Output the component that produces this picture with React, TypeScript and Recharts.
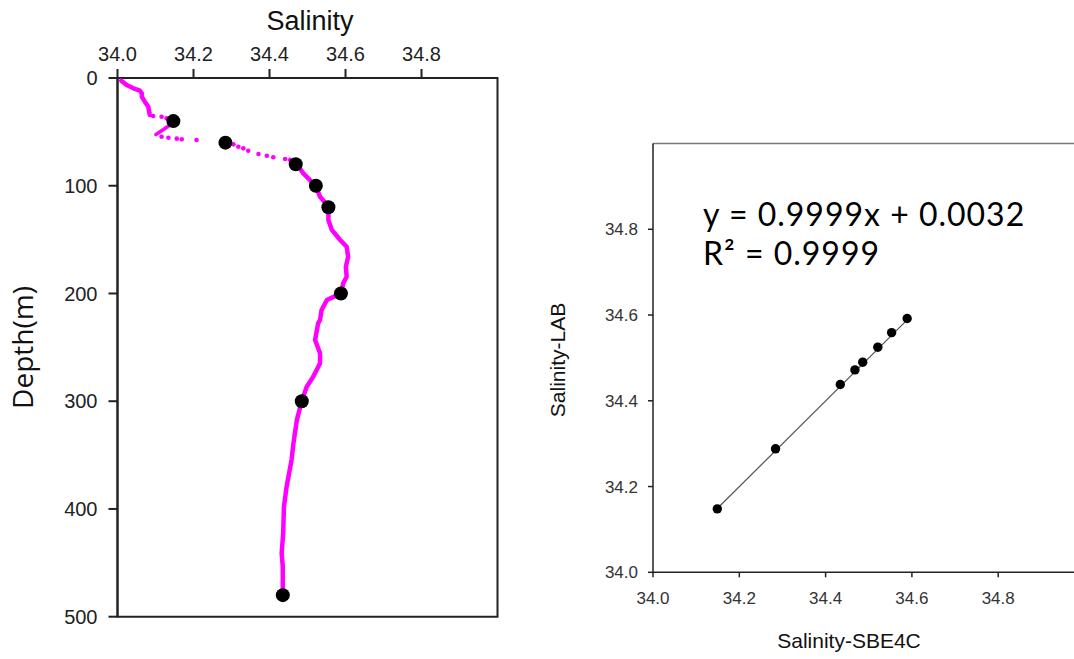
import React from 'react';
import { ScatterChart, Scatter, XAxis, YAxis, ReferenceArea, ReferenceLine } from 'recharts';

// ---------- Left chart: salinity profile ----------
const upperDepth = [2.5, 6.5, 9.6, 11.8, 14.2, 17.3, 22, 26.6, 32.8, 34.3];
const upperSal = [34.010, 34.024, 34.042, 34.059, 34.064, 34.064, 34.072, 34.081, 34.084, 34.085];

const sparseDepth = [35.3, 35.9, 37.4, 54.5, 55.4, 56.3, 56.9, 57.6, 61.6, 63.8, 65.3, 67.5, 70.5, 72.1, 73.6, 75.2];
const sparseSal = [34.094, 34.116, 34.129, 34.116, 34.134, 34.156, 34.169, 34.208, 34.305, 34.318, 34.331, 34.344, 34.371, 34.393, 34.410, 34.441];

const strokeDepth = [40, 43.6, 48, 52.4];
const strokeSal = [34.147, 34.138, 34.12, 34.101];

const lowerDepth = [76.1, 79.8, 84, 88.5, 93.1, 100, 110.2, 119, 131.8, 141, 150.4, 156.6, 165.9, 175.2, 184.4, 190.6, 199.9, 206.1, 215.4, 224.6, 227.7, 243.2, 255.5, 264.8, 277.3, 286.5, 299.5, 317.5, 339, 354.6, 379.4, 398, 422.6, 441.2, 453.6, 479.9];
const lowerSal = [34.454, 34.469, 34.480, 34.489, 34.502, 34.521, 34.533, 34.555, 34.555, 34.564, 34.586, 34.603, 34.607, 34.601, 34.603, 34.594, 34.588, 34.551, 34.537, 34.533, 34.528, 34.520, 34.533, 34.533, 34.515, 34.498, 34.485, 34.472, 34.463, 34.458, 34.445, 34.438, 34.436, 34.432, 34.435, 34.435];

const bottleDepth = [40, 60, 80, 100, 120, 200, 300, 480];
const bottleSal = [34.147, 34.284, 34.469, 34.522, 34.555, 34.588, 34.485, 34.435];

const salTicks = [34.0, 34.2, 34.4, 34.6, 34.8];
const depthTicks = [0, 100, 200, 300, 400, 500];

// ---------- Right chart: comparison ----------
const sbe4c = [34.149, 34.284, 34.434, 34.468, 34.486, 34.521, 34.553, 34.589];
const lab = [34.148, 34.288, 34.438, 34.472, 34.490, 34.525, 34.559, 34.592];
const fitSlope = 0.9999;
const fitIntercept = 0.0032;
const fitRange = [34.149, 34.589];
const compTicks = [34.0, 34.2, 34.4, 34.6, 34.8];
const fitLines = ['y = 0.9999x + 0.0032', 'R² = 0.9999'];

const toPts = (d: number[], s: number[]) => d.map((v, i) => ({ depth: v, sal: s[i] }));
const upperData = toPts(upperDepth, upperSal);
const sparseData = toPts(sparseDepth, sparseSal);
const strokeData = toPts(strokeDepth, strokeSal);
const lowerData = toPts(lowerDepth, lowerSal);
const bottleData = toPts(bottleDepth, bottleSal);

const compData = sbe4c.map((v, i) => ({ x: v, y: lab[i] }));
const fitData = fitRange.map((x) => ({ x, y: fitSlope * x + fitIntercept }));

const ARIAL = "Arial, 'Liberation Sans', sans-serif";
const CALIBRI = "'Open Sans', 'Noto Sans', sans-serif";
const EQFONT = "Lato, 'Open Sans', sans-serif";
const MAG = '#ff00ff';

const noShape = () => <g />;
const lineStyle = { stroke: MAG, strokeWidth: 4.5, strokeLinejoin: 'round', strokeLinecap: 'round' } as any;

export default function App() {
  return (
    <div style={{ position: 'absolute', left: 0, top: 0, width: 1074, height: 659, overflow: 'hidden', background: '#fff' }}>
      <div style={{ position: 'absolute', left: 0, top: 0 }}>
        <ScatterChart width={520} height={659} margin={{ top: 48, left: 7.5, right: 22.5, bottom: 42.3 }}>
          <XAxis
            type="number"
            dataKey="sal"
            orientation="top"
            domain={[34, 35]}
            ticks={salTicks}
            tickFormatter={(v: number) => v.toFixed(1)}
            height={30}
            tickSize={9}
            tickMargin={8.5}
            axisLine={{ stroke: '#222', strokeWidth: 2 }}
            tickLine={{ stroke: '#222', strokeWidth: 2 }}
            tick={{ fill: '#222', fontSize: 20, fontFamily: ARIAL }}
            allowDataOverflow
            label={() => (
              <text x={310} y={30} textAnchor="middle" fontSize={27} fontFamily={ARIAL} fill="#111">Salinity</text>
            )}
          />
          <YAxis
            type="number"
            dataKey="depth"
            reversed
            domain={[0, 500]}
            ticks={depthTicks}
            width={110}
            tickSize={9}
            tickMargin={11}
            axisLine={{ stroke: '#222', strokeWidth: 2 }}
            tickLine={{ stroke: '#222', strokeWidth: 2 }}
            tick={{ fill: '#222', fontSize: 20, fontFamily: ARIAL }}
            allowDataOverflow
            label={() => (
              <text x={33} y={347.5} transform="rotate(-90 33 347.5)" textAnchor="middle" fontSize={28} fontFamily={CALIBRI} fill="#111">Depth(m)</text>
            )}
          />
          <ReferenceArea x1={34} x2={35} y1={0} y2={500} fill="none" fillOpacity={0} stroke="#222" strokeWidth={2} ifOverflow="visible" />
          <Scatter data={upperData} shape={noShape} line={lineStyle} lineJointType="linear" isAnimationActive={false} />
          <Scatter data={strokeData} shape={noShape} line={{ ...lineStyle, strokeWidth: 3.5 }} lineJointType="linear" isAnimationActive={false} />
          <Scatter data={lowerData} shape={noShape} line={lineStyle} lineJointType="linear" isAnimationActive={false} />
          <Scatter
            data={sparseData}
            isAnimationActive={false}
            shape={(p: any) => <circle cx={p.cx} cy={p.cy} r={2.3} fill={MAG} />}
          />
          <Scatter
            data={bottleData}
            isAnimationActive={false}
            shape={(p: any) => <circle cx={p.cx} cy={p.cy} r={7} fill="#000" />}
          />
        </ScatterChart>
      </div>

      <div style={{ position: 'absolute', left: 540, top: 120 }}>
        <ScatterChart width={560} height={539} margin={{ top: 23.5, left: 53, right: 15.5, bottom: 56.7 }}>
          <XAxis
            type="number"
            dataKey="x"
            domain={[34, 35]}
            ticks={compTicks}
            tickFormatter={(v: number) => v.toFixed(1)}
            height={30}
            tickSize={5}
            tickMargin={14.5}
            axisLine={{ stroke: '#222', strokeWidth: 1.5 }}
            tickLine={{ stroke: '#222', strokeWidth: 1.5 }}
            tick={{ fill: '#333', fontSize: 17, fontFamily: ARIAL }}
            allowDataOverflow
            label={() => (
              <text x={309} y={528} textAnchor="middle" fontSize={21} fontFamily={ARIAL} fill="#111">Salinity-SBE4C</text>
            )}
          />
          <YAxis
            type="number"
            dataKey="y"
            domain={[34, 35]}
            ticks={compTicks}
            tickFormatter={(v: number) => v.toFixed(1)}
            width={60}
            tickSize={5}
            tickMargin={10}
            axisLine={{ stroke: '#222', strokeWidth: 1.5 }}
            tickLine={{ stroke: '#222', strokeWidth: 1.5 }}
            tick={{ fill: '#333', fontSize: 17, fontFamily: ARIAL }}
            allowDataOverflow
            label={() => (
              <text x={25} y={240} transform="rotate(-90 25 240)" textAnchor="middle" fontSize={21} fontFamily={ARIAL} fill="#111">Salinity-LAB</text>
            )}
          />
          <ReferenceLine y={35} stroke="#777" strokeWidth={1.5} ifOverflow="visible" />
          <Scatter
            data={fitData}
            shape={noShape}
            line={{ stroke: '#555', strokeWidth: 1.2 }}
            lineJointType="linear"
            isAnimationActive={false}
          />
          <Scatter
            data={compData}
            isAnimationActive={false}
            shape={(p: any) => <circle cx={p.cx} cy={p.cy} r={4.7} fill="#000" />}
          />
        </ScatterChart>
      </div>

      <svg style={{ position: 'absolute', left: 0, top: 0, pointerEvents: 'none' }} width={1074} height={659}>
        <text x={703} y={225.5} fontSize={32} letterSpacing={1} fontFamily={EQFONT} fill="#000">{fitLines[0]}</text>
        <text x={703} y={264.5} fontSize={32} letterSpacing={1} fontFamily={EQFONT} fill="#000">{fitLines[1]}</text>
      </svg>
    </div>
  );
}
